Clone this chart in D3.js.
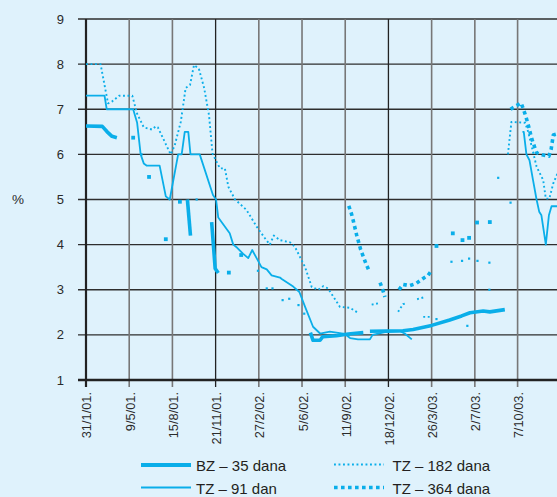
<!DOCTYPE html>
<html>
<head>
<meta charset="utf-8">
<script src="https://cdn.jsdelivr.net/npm/d3@7"></script>
<style>
  html, body { margin: 0; padding: 0; background: #dff2fc; }
  svg { display: block; font-family: "Liberation Sans", Arial, sans-serif; }
</style>
</head>
<body>
<div id="chart"></div>
<script>
// tick dates on the x axis
var tickDates = ['2001-01-31', '2001-05-09', '2001-08-15', '2001-11-21', '2002-02-27', '2002-06-05',
  '2002-09-11', '2002-12-18', '2003-03-26', '2003-07-02', '2003-10-07', '2004-01-13']
var darkTicks = ['2001-11-21', '2002-12-18']
var yTicks = [1, 2, 3, 4, 5, 6, 7, 8, 9]

// each series is a list of pieces: [date, %]; a piece with one point is a lone mark
var bz35 = [
  [['2001-01-31', 6.63], ['2001-03-09', 6.62], ['2001-03-20', 6.5], ['2001-03-31', 6.4], ['2001-04-11', 6.37]],
  [['2001-09-18', 5.0], ['2001-09-25', 4.2]],
  [['2001-11-12', 4.5], ['2001-11-20', 3.47], ['2001-11-27', 3.37]],
  [['2002-06-24', 2.05], ['2002-06-30', 1.88], ['2002-07-16', 1.88], ['2002-07-22', 1.96], ['2002-08-22', 1.98],
    ['2002-09-18', 2.02], ['2002-10-22', 2.05]],
  [['2002-11-06', 2.08], ['2003-01-20', 2.09], ['2003-02-12', 2.12], ['2003-03-26', 2.21], ['2003-05-06', 2.33],
    ['2003-06-02', 2.42], ['2003-06-21', 2.49], ['2003-07-21', 2.53], ['2003-08-05', 2.51], ['2003-09-08', 2.56]]
]

var tz91 = [
  [['2001-01-31', 7.3], ['2001-03-14', 7.3], ['2001-03-19', 7.0], ['2001-05-18', 7.0], ['2001-05-27', 6.7],
    ['2001-06-04', 6.0], ['2001-06-11', 5.8], ['2001-06-18', 5.75], ['2001-07-17', 5.75], ['2001-07-31', 5.07],
    ['2001-08-09', 5.0], ['2001-08-28', 6.0], ['2001-09-05', 6.0], ['2001-09-12', 6.5], ['2001-09-20', 6.5],
    ['2001-09-25', 6.0], ['2001-10-16', 6.0], ['2001-11-15', 5.1], ['2001-11-22', 5.0], ['2001-11-27', 4.6],
    ['2001-12-23', 4.25], ['2001-12-31', 4.0], ['2002-01-09', 3.93], ['2002-01-22', 3.8], ['2002-02-03', 3.7],
    ['2002-02-12', 3.88], ['2002-02-22', 3.7], ['2002-03-05', 3.5], ['2002-03-17', 3.45], ['2002-03-28', 3.32],
    ['2002-04-16', 3.27], ['2002-04-20', 3.24], ['2002-05-16', 3.07], ['2002-05-30', 2.95], ['2002-06-12', 2.62],
    ['2002-06-30', 2.18], ['2002-07-16', 2.03], ['2002-08-07', 2.07], ['2002-09-10', 2.02], ['2002-09-22', 1.93],
    ['2002-10-10', 1.9], ['2002-11-06', 1.9], ['2002-11-12', 2.0], ['2002-12-10', 2.06], ['2003-01-13', 2.08],
    ['2003-01-24', 2.03], ['2003-02-09', 1.9]],
  [['2003-10-18', 6.5], ['2003-10-21', 6.5], ['2003-10-27', 6.0], ['2003-11-03', 5.87], ['2003-11-11', 5.43],
    ['2003-11-19', 5.0], ['2003-11-25', 4.73], ['2003-11-30', 4.65], ['2003-12-10', 4.0], ['2003-12-17', 4.65],
    ['2003-12-23', 4.85], ['2004-01-11', 4.85]]
]

var tz182 = [
  [['2001-01-31', 8.0], ['2001-03-05', 8.0], ['2001-03-22', 7.13], ['2001-03-31', 7.17], ['2001-04-16', 7.3],
    ['2001-05-16', 7.3], ['2001-05-27', 6.9], ['2001-06-11', 6.6], ['2001-06-30', 6.55], ['2001-07-08', 6.62],
    ['2001-07-13', 6.6], ['2001-08-11', 6.0], ['2001-08-20', 6.19], ['2001-09-03', 6.72], ['2001-09-14', 7.47],
    ['2001-09-24', 7.54], ['2001-10-03', 7.98], ['2001-10-14', 7.9], ['2001-10-26', 7.47], ['2001-11-06', 6.87],
    ['2001-11-14', 6.02], ['2001-11-25', 5.8], ['2001-12-01', 5.69], ['2001-12-12', 5.69], ['2001-12-20', 5.28],
    ['2002-01-04', 5.0], ['2002-01-30', 4.77], ['2002-02-22', 4.4], ['2002-03-13', 4.14], ['2002-03-24', 4.0],
    ['2002-04-02', 4.2], ['2002-04-16', 4.1], ['2002-05-09', 4.05], ['2002-05-20', 3.95], ['2002-06-12', 3.5],
    ['2002-06-27', 3.06], ['2002-07-12', 3.0], ['2002-07-23', 3.08], ['2002-08-03', 3.03], ['2002-08-30', 2.62],
    ['2002-09-22', 2.6], ['2002-10-10', 2.49]],
  [['2001-06-06', 6.0]],
  [['2001-10-09', 5.0]],
  [['2002-02-25', 3.42]],
  [['2002-03-17', 3.03]], [['2002-03-30', 3.03]],
  [['2002-04-22', 2.77]], [['2002-05-07', 2.8]],
  [['2002-05-28', 2.66]], [['2002-06-10', 2.47]],
  [['2002-11-10', 2.67], ['2002-11-25', 2.7]],
  [['2003-01-09', 2.51], ['2003-01-20', 2.68], ['2003-01-29', 2.7]],
  [['2003-02-21', 2.79], ['2003-03-11', 2.84]],
  [['2003-03-07', 2.4], ['2003-03-24', 2.4]],
  [['2003-04-06', 2.35]],
  [['2003-05-10', 3.62]], [['2003-06-03', 3.64]], [['2003-06-19', 3.69]], [['2003-07-08', 3.64]], [['2003-08-04', 3.6]],
  [['2003-06-15', 2.2]], [['2003-08-04', 3.0]], [['2003-08-24', 5.48]], [['2003-09-21', 4.93]],
  [['2003-09-15', 6.0], ['2003-09-23', 6.72], ['2003-10-24', 6.7], ['2003-10-31', 6.5], ['2003-11-19', 5.73],
    ['2003-12-04', 5.43], ['2003-12-10', 5.02], ['2003-12-18', 5.02], ['2003-12-27', 5.36], ['2004-01-11', 5.7]]
]

var tz364 = [
  [['2001-05-18', 6.37]], [['2001-06-23', 5.5]], [['2001-07-31', 4.12]], [['2001-09-01', 4.95]],
  [['2001-12-21', 3.38]], [['2002-01-18', 3.77]],
  [['2002-09-19', 4.86], ['2002-09-25', 4.69], ['2002-09-29', 4.54], ['2002-10-07', 4.21], ['2002-10-16', 3.89],
    ['2002-10-28', 3.58], ['2002-11-04', 3.42]],
  [['2002-11-29', 3.16], ['2002-12-05', 3.0], ['2002-12-10', 2.84]],
  [['2003-01-11', 3.0], ['2003-01-20', 3.12], ['2003-02-04', 3.09], ['2003-02-19', 3.14], ['2003-03-05', 3.24],
    ['2003-03-18', 3.32], ['2003-03-26', 3.43]],
  [['2003-04-06', 3.97]], [['2003-05-13', 4.25]], [['2003-06-04', 4.1]], [['2003-06-19', 4.15]],
  [['2003-07-07', 4.49]], [['2003-08-05', 4.5]],
  [['2003-09-21', 7.0], ['2003-10-03', 7.07], ['2003-10-15', 7.14], ['2003-10-21', 6.98], ['2003-10-26', 6.83],
    ['2003-10-31', 6.66], ['2003-11-08', 6.35], ['2003-11-14', 6.18], ['2003-11-19', 6.04], ['2003-12-02', 5.99],
    ['2003-12-17', 5.96], ['2003-12-22', 6.11], ['2003-12-27', 6.43], ['2004-01-11', 6.47]]
]

var legendLabels = ['BZ – 35 dana', 'TZ – 91 dan', 'TZ – 182 dana', 'TZ – 364 dana']

var W = 557
var H = 497
var blue = '#0aaee9'
var parse = d3.timeParse('%Y-%m-%d')

var svg = d3.select('#chart').append('svg')
  .attr('width', W)
  .attr('height', H)

var x = d3.scaleTime()
  .domain([parse('2001-01-31'), parse('2003-10-07')])
  .range([86, 517.6])
var y = d3.scaleLinear().domain([1, 9]).range([380, 19])

// horizontal grid
svg.append('g').selectAll('line').data(yTicks.slice(1)).enter().append('line')
  .attr('x1', 78).attr('x2', W)
  .attr('y1', function (d) { return y(d) }).attr('y2', function (d) { return y(d) })
  .attr('stroke', '#2e2e2e').attr('stroke-width', 1.4)

// vertical grid
svg.append('g').selectAll('line').data(tickDates.slice(1)).enter().append('line')
  .attr('x1', function (d) { return x(parse(d)) }).attr('x2', function (d) { return x(parse(d)) })
  .attr('y1', y(9)).attr('y2', 387)
  .attr('stroke', function (d) { return darkTicks.indexOf(d) >= 0 ? '#222' : '#777' })
  .attr('stroke-width', function (d) { return darkTicks.indexOf(d) >= 0 ? 1.3 : 1.6 })

// axes
svg.append('line').attr('x1', 78).attr('x2', W).attr('y1', y(1)).attr('y2', y(1))
  .attr('stroke', '#222').attr('stroke-width', 2.4)
svg.append('line').attr('x1', 86).attr('x2', 86).attr('y1', y(9)).attr('y2', 387)
  .attr('stroke', '#222').attr('stroke-width', 2.2)

svg.append('g').selectAll('text').data(yTicks).enter().append('text')
  .attr('x', 64).attr('y', function (d) { return y(d) })
  .attr('dy', '0.35em')
  .attr('text-anchor', 'end')
  .attr('font-size', 13)
  .attr('fill', '#2a2a2a')
  .text(function (d) { return d })

svg.append('text').attr('x', 18).attr('y', y(5)).attr('dy', '0.35em')
  .attr('text-anchor', 'middle').attr('font-size', 13.5).attr('fill', '#2a2a2a').text('%')

svg.append('g').selectAll('text').data(tickDates.slice(0, 11)).enter().append('text')
  .attr('transform', function (d) { return 'translate(' + (x(parse(d)) + 1) + ',392) rotate(-90)' })
  .attr('dy', '0.35em')
  .attr('text-anchor', 'end')
  .attr('font-size', 12.8)
  .attr('fill', '#2a2a2a')
  .text(function (d) {
    var t = parse(d)
    return t.getDate() + '/' + (t.getMonth() + 1) + '/' + String(t.getFullYear()).slice(2) + '.'
  })

var line = d3.line()
  .x(function (d) { return x(parse(d[0])) })
  .y(function (d) { return y(d[1]) })

function drawSeries (pieces, width, dash, dot) {
  var g = svg.append('g')
  pieces.forEach(function (p) {
    if (p.length === 1) {
      g.append('rect')
        .attr('x', x(parse(p[0][0])) - dot / 2)
        .attr('y', y(p[0][1]) - dot / 2)
        .attr('width', dot).attr('height', dot)
        .attr('fill', blue)
    } else {
      g.append('path')
        .attr('d', line(p))
        .attr('fill', 'none')
        .attr('stroke', blue)
        .attr('stroke-width', width)
        .attr('stroke-dasharray', dash)
        .attr('stroke-linejoin', 'round')
    }
  })
}

drawSeries(tz182, 1.9, '1.9,2.6', 2.2)
drawSeries(tz91, 1.8, null, 2)
drawSeries(tz364, 3.6, '3.6,3.4', 3.8)
drawSeries(bz35, 3.6, null, 3.6)

// legend
var legendRows = [
  { x: 141, tx: 196, y: 465, w: 3.8, dash: null, label: legendLabels[0] },
  { x: 141, tx: 196, y: 487.5, w: 1.9, dash: null, label: legendLabels[1] },
  { x: 334, tx: 392.5, y: 464.5, w: 1.9, dash: '1.9,2.6', label: legendLabels[2] },
  { x: 334, tx: 392.5, y: 487.5, w: 3.6, dash: '3.6,3.4', label: legendLabels[3] }
]
legendRows.forEach(function (r) {
  svg.append('line')
    .attr('x1', r.x).attr('x2', r.x + 50).attr('y1', r.y).attr('y2', r.y)
    .attr('stroke', blue).attr('stroke-width', r.w).attr('stroke-dasharray', r.dash)
  svg.append('text')
    .attr('x', r.tx).attr('y', r.y + 6)
    .attr('font-size', 15).attr('fill', '#231f20')
    .text(r.label)
})
</script>
</body>
</html>
